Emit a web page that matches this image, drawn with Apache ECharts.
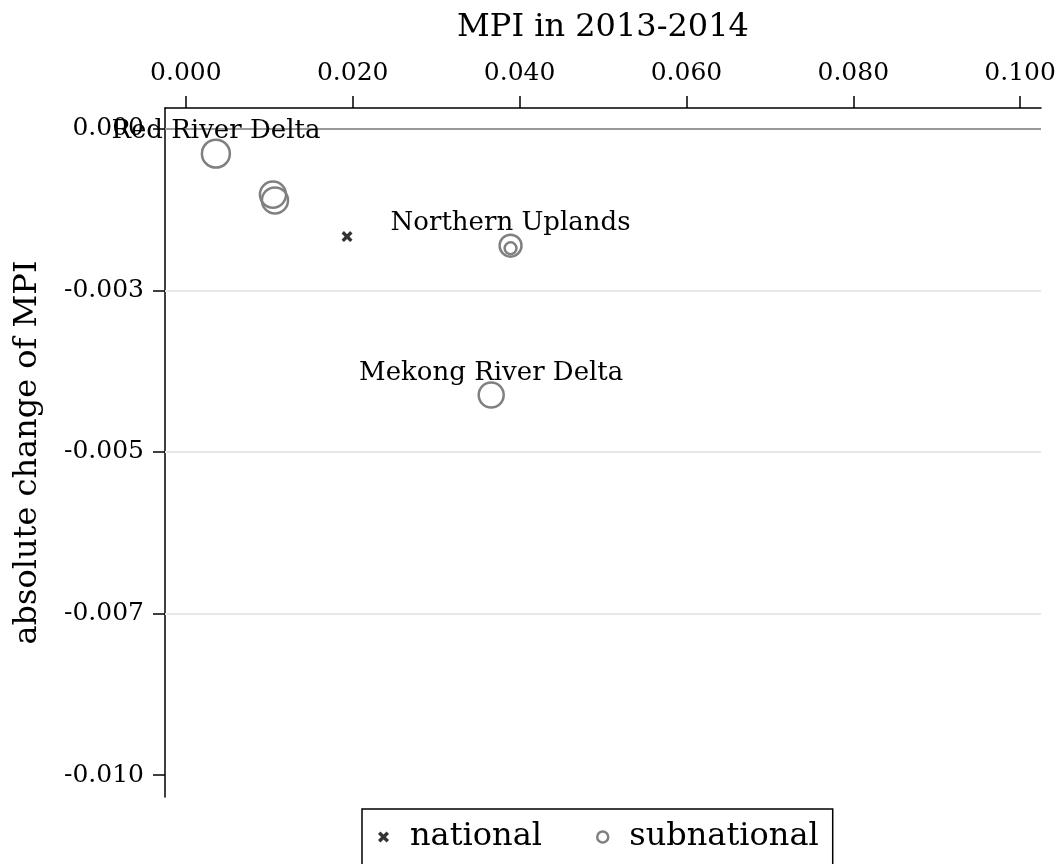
<!DOCTYPE html>
<html>
<head>
<meta charset="utf-8">
<script src="https://cdn.jsdelivr.net/npm/echarts@6/dist/echarts.min.js"></script>
<style>
html,body{margin:0;padding:0;background:#fff;}
#chart{width:1062px;height:864px;}
</style>
</head>
<body>
<div id="chart"></div>
<script>
// ---- data ----
const xTickValues = [0, 0.02, 0.04, 0.06, 0.08, 0.10];
const xTickLabels = ['0.000', '0.020', '0.040', '0.060', '0.080', '0.100'];
const yTickValues = [0, -0.0025, -0.005, -0.0075, -0.01];
const yTickLabels = ['0.000', '-0.003', '-0.005', '-0.007', '-0.010'];
const yGridValues = [-0.0025, -0.005, -0.0075];

const nationalMPI = [0.01932];
const nationalChange = [-0.00167];

const subLabels = ['Red River Delta', '', '', 'Northern Uplands', '', 'Mekong River Delta'];
const subMPI = [0.0036, 0.01044, 0.01068, 0.03892, 0.03892, 0.0366];
const subChange = [-0.000386, -0.00102, -0.00111, -0.00181, -0.00185, -0.00412];
const subWeight = [7.8, 6.8, 6.8, 4.8, 1.4, 6.25];

// ---- chart ----
const FONT = '"DejaVu Serif", serif';
const X_MIN = -0.0025, X_MAX = 0.1025, Y_MIN = -0.01034, Y_MAX = 0.00032;
const xMark = 'path://M0,2.2 L2.2,0 L5,2.8 L7.8,0 L10,2.2 L7.2,5 L10,7.8 L7.8,10 L5,7.2 L2.2,10 L0,7.8 L2.8,5 Z';

const nationalData = nationalMPI.map((v, i) => [v, nationalChange[i]]);
const labelStyle = { fontFamily: FONT, fontSize: 26, color: '#000000', opacity: 1,
  textBorderWidth: 0, textBorderColor: 'transparent', textShadowBlur: 0 };
const subData = subMPI.map((v, i) => {
  const item = { value: [v, subChange[i], subWeight[i]] };
  if (subLabels[i]) {
    item.label = Object.assign({ show: true, position: 'inside', offset: [0, -22], formatter: subLabels[i] }, labelStyle);
  }
  return item;
});

function labelFor(values, labels) {
  return function (v) {
    let best = 0, d = Infinity;
    values.forEach((t, i) => { const dd = Math.abs(t - v); if (dd < d) { d = dd; best = i; } });
    return labels[best];
  };
}

const gridLines = yGridValues.map(y => [
  { coord: [X_MIN, y], lineStyle: { color: '#e8e8e8', width: 2, type: 'solid' } },
  { coord: [X_MAX, y] }
]);
gridLines.push([
  { coord: [X_MIN, 0], lineStyle: { color: '#999999', width: 2, type: 'solid' } },
  { coord: [X_MAX, 0] }
]);

const chart = echarts.init(document.getElementById('chart'), null, { renderer: 'canvas' });
chart.setOption({
  animation: false,
  backgroundColor: '#fff',
  textStyle: { fontFamily: FONT },
  grid: { left: 165, right: 21, top: 108, bottom: 67, containLabel: false },
  xAxis: {
    type: 'value',
    position: 'top',
    min: X_MIN,
    max: X_MAX,
    name: 'MPI in 2013-2014',
    nameLocation: 'middle',
    nameGap: 64,
    nameTextStyle: { fontFamily: FONT, fontSize: 32, color: '#000' },
    axisLine: { show: true, onZero: false, lineStyle: { color: '#000', width: 1.5 } },
    axisTick: { show: true, length: 12, lineStyle: { color: '#000', width: 1.5 }, customValues: xTickValues },
    axisLabel: { fontFamily: FONT, fontSize: 25, color: '#000', margin: 22,
      customValues: xTickValues, formatter: labelFor(xTickValues, xTickLabels) },
    splitLine: { show: false }
  },
  yAxis: {
    type: 'value',
    min: Y_MIN,
    max: Y_MAX,
    name: 'absolute change of MPI',
    nameLocation: 'middle',
    nameGap: 121,
    nameTextStyle: { fontFamily: FONT, fontSize: 32, color: '#000' },
    axisLine: { show: true, onZero: false, lineStyle: { color: '#000', width: 1.5 } },
    axisTick: { show: true, length: 12, lineStyle: { color: '#000', width: 1.5 }, customValues: yTickValues },
    axisLabel: { fontFamily: FONT, fontSize: 25, color: '#000', margin: 21,
      customValues: yTickValues, formatter: labelFor(yTickValues, yTickLabels) },
    splitLine: { show: false }
  },
  legend: {
    left: 362,
    top: 809,
    orient: 'horizontal',
    padding: [12, 14, 30, 16],
    borderColor: '#000',
    borderWidth: 1.5,
    itemWidth: 11,
    itemHeight: 11,
    itemGap: 54,
    textStyle: { fontFamily: FONT, fontSize: 32, color: '#000', padding: [0, 0, 0, 16] },
    data: [
      { name: 'national', icon: xMark, itemStyle: { color: '#000' } },
      { name: 'subnational', icon: 'circle', itemStyle: { color: 'rgba(0,0,0,0)', borderColor: '#808080', borderWidth: 2.5 } }
    ]
  },
  series: [
    {
      name: 'national',
      type: 'scatter',
      symbol: xMark,
      symbolSize: 11,
      itemStyle: { color: '#000' },
      data: nationalData,
      z: 3,
      markLine: {
        silent: true,
        symbol: ['none', 'none'],
        label: { show: false },
        z: 1,
        data: gridLines
      }
    },
    {
      name: 'subnational',
      type: 'scatter',
      symbol: 'circle',
      symbolSize: function (val) { return 10 * Math.sqrt(val[2]); },
      itemStyle: { color: 'rgba(0,0,0,0)', borderColor: '#808080', borderWidth: 2.5, opacity: 1 },
      label: Object.assign({ show: false, position: 'inside', offset: [0, -22] }, labelStyle),
      data: subData,
      z: 3
    }
  ]
});
</script>
</body>
</html>
